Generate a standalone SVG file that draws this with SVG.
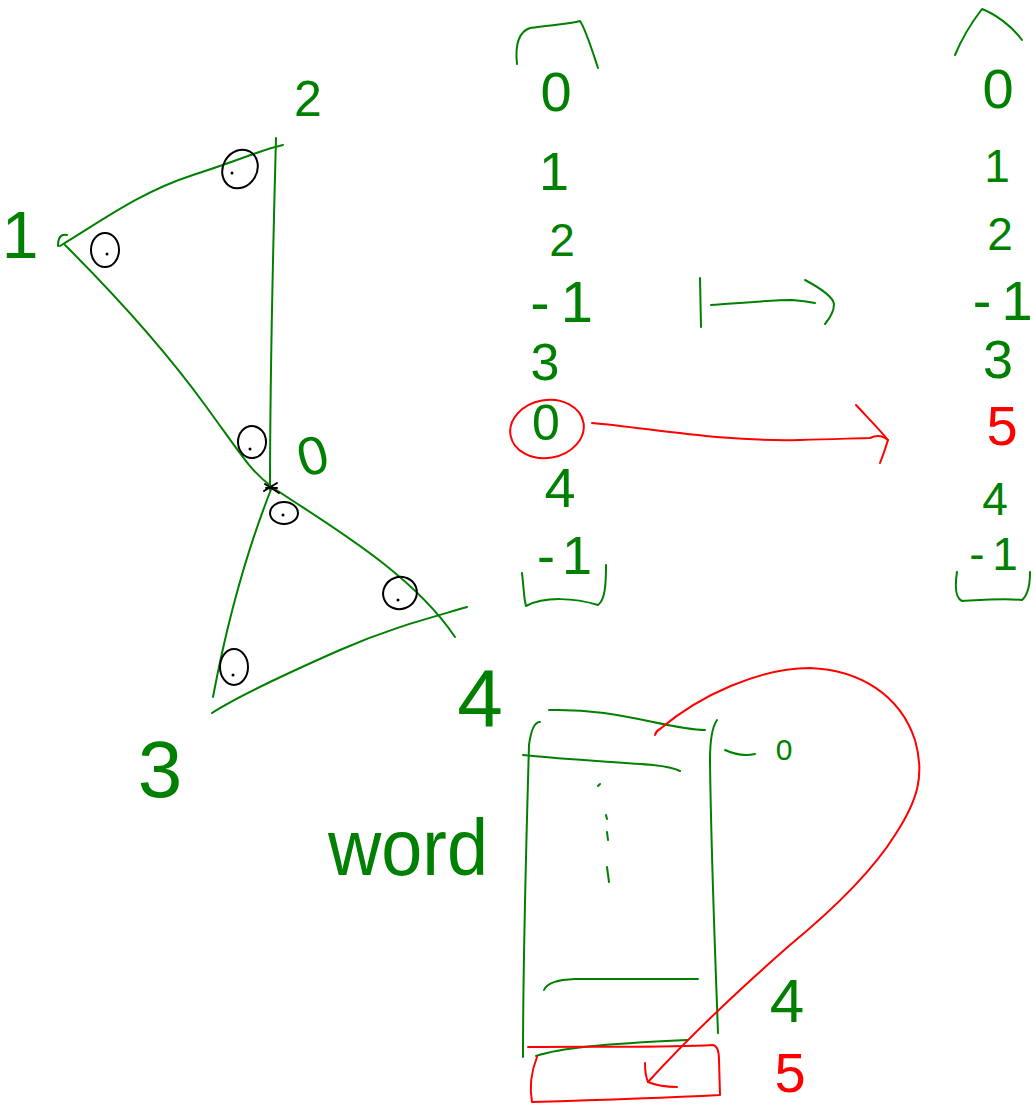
<svg xmlns="http://www.w3.org/2000/svg" width="1034" height="1110" viewBox="0 0 1034 1110">
<style>
.g{fill:none;stroke:#008000;stroke-width:2;stroke-linecap:round;stroke-linejoin:round}
.r{fill:none;stroke:#ff0000;stroke-width:2;stroke-linecap:round;stroke-linejoin:round}
.k{fill:none;stroke:#000;stroke-width:2;stroke-linecap:round;stroke-linejoin:round}
.dot{fill:#000}
.t{font-family:"Liberation Sans",Arial,sans-serif;fill:#008000;text-anchor:middle}
.tr{font-family:"Liberation Sans",Arial,sans-serif;fill:#ff0000;text-anchor:middle}
</style>
<rect width="1034" height="1110" fill="#fff"/>

<g id="triangle-graph">
  <path class="g" d="M67,235 Q58,233 58,246"/>
  <path class="g" d="M60,246 C100,222 140,192 193,175 S260,150 283,145"/>
  <path class="g" d="M276,138 C273,250 270,380 270,490"/>
  <path class="g" d="M65,245 C120,300 165,350 205,405 S250,470 272,487 C320,520 410,570 455,637"/>
  <path class="g" d="M272,487 Q235,580 213,697"/>
  <path class="g" d="M212,713 C240,695 290,672 340,650 S430,618 467,607"/>
  <g id="vertex-center-mark">
    <path class="k" d="M264,491 L277,483 M265,484 L279,493 M266,488 L277,488" stroke-width="3"/>
  </g>
  <g id="angle-marks">
    <ellipse class="k" cx="105" cy="250" rx="14" ry="17"/><circle class="dot" cx="107" cy="254" r="1.5"/>
    <ellipse class="k" cx="240" cy="169" rx="17" ry="20" transform="rotate(30 240 169)"/><circle class="dot" cx="232" cy="173" r="1.5"/>
    <ellipse class="k" cx="252" cy="442" rx="14" ry="16"/><circle class="dot" cx="250" cy="449" r="1.5"/>
    <ellipse class="k" cx="284" cy="513" rx="14" ry="11"/><circle class="dot" cx="283" cy="515" r="1.5"/>
    <ellipse class="k" cx="400" cy="593" rx="17" ry="16" transform="rotate(-20 400 593)"/><circle class="dot" cx="398" cy="600" r="1.5"/>
    <ellipse class="k" cx="234" cy="667" rx="14" ry="18"/><circle class="dot" cx="233" cy="675" r="1.5"/>
  </g>
  <text class="t" x="20" y="258" font-size="66">1</text>
  <text class="t" x="308" y="116" font-size="50">2</text>
  <text class="t" x="314" y="474" font-size="54" transform="rotate(-15 314 460)">0</text>
  <text class="t" x="160" y="797" font-size="80">3</text>
  <text class="t" x="480" y="727" font-size="82">4</text>
</g>

<g id="array-before">
  <path class="g" d="M517,64 C515,45 518,32 530,28 C550,25 570,24 580,21 C586,30 592,50 598,68"/>
  <text class="t" x="556" y="111" font-size="56">0</text>
  <text class="t" x="554" y="190" font-size="54">1</text>
  <text class="t" x="562" y="256" font-size="46">2</text>
  <text class="t" font-size="58" y="322"><tspan x="540">-</tspan><tspan x="577">1</tspan></text>
  <text class="t" x="545" y="380" font-size="52">3</text>
  <text class="t" x="546" y="440" font-size="50">0</text>
  <ellipse class="r" cx="547" cy="429" rx="37" ry="29" transform="rotate(-10 547 429)"/>
  <text class="t" x="560" y="507" font-size="56">4</text>
  <text class="t" font-size="54" y="574"><tspan x="546">-</tspan><tspan x="577">1</tspan></text>
  <path class="g" d="M522,573 C524,590 524,600 526,606 C545,596 575,598 598,605 C605,600 606,585 606,565"/>
</g>

<g id="array-after">
  <path class="g" d="M955,55 C962,38 972,22 982,9 C995,14 1012,26 1022,40"/>
  <text class="t" x="998" y="108" font-size="56">0</text>
  <text class="t" x="997" y="182" font-size="46">1</text>
  <text class="t" x="1000" y="250" font-size="46">2</text>
  <text class="t" font-size="56" y="320"><tspan x="982">-</tspan><tspan x="1017">1</tspan></text>
  <text class="t" x="998" y="378" font-size="54">3</text>
  <text class="tr" x="1002" y="445" font-size="56">5</text>
  <text class="t" x="995" y="515" font-size="46">4</text>
  <text class="t" font-size="46" y="570"><tspan x="977">-</tspan><tspan x="1005">1</tspan></text>
  <path class="g" d="M957,572 C955,585 955,598 962,601 C980,600 1005,598 1022,600 C1028,595 1030,585 1030,572"/>
</g>

<g id="word-array">
  <text class="t" x="328" y="875" font-size="80" textLength="160" lengthAdjust="spacingAndGlyphs" style="text-anchor:start">word</text>
  <path class="g" d="M540,722 Q532,722 529,745 C526,850 523,960 523,1057"/>
  <path class="g" d="M549,710 C590,709 620,715 653,722 S695,730 705,730"/>
  <path class="g" d="M523,755 C570,760 620,762 653,765 Q672,767 680,771"/>
  <path class="g" d="M717,720 Q710,730 710,760 C711,850 715,950 718,1033"/>
  <path class="g" d="M725,750 Q740,757 755,754"/>
  <text class="t" x="784" y="760" font-size="30">0</text>
  <path class="g" d="M598,786 L600,784 M606,815 L607,819 M607,832 L608,840 M607,867 L609,882"/>
  <path class="g" d="M544,990 Q548,980 575,979 L698,979"/>
  <path class="g" d="M536,1056 C560,1048 600,1044 687,1040"/>
  <path class="r" d="M528,1047 C600,1046 660,1048 713,1045 Q719,1046 719,1060 L720,1095 C660,1098 600,1100 532,1102 Q528,1080 537,1057"/>
  <text class="t" x="787" y="1022" font-size="62">4</text>
  <text class="tr" x="790" y="1092" font-size="56">5</text>
</g>

<g id="connectors">
  <path class="g" d="M700,278 L701,327"/>
  <path class="g" d="M711,305 C740,303 770,300 792,300 Q805,301 815,303"/>
  <path class="g" d="M805,280 C820,288 833,297 834,304 C834,312 830,318 825,324"/>
  <path class="r" d="M592,423 C650,428 720,442 800,440 C840,439 860,438 870,438 Q880,433 888,440"/>
  <path class="r" d="M856,405 C870,420 880,430 888,440 C885,450 882,458 880,463"/>
  <path class="r" d="M655,735 Q656,731 660,729 C700,695 760,668 810,668 C860,670 900,695 915,740 C925,775 918,800 895,835 C870,875 830,912 790,945 C750,980 700,1025 648,1082"/>
  <path class="r" d="M645,1063 Q645,1075 648,1082 Q660,1087 677,1087"/>
</g>
</svg>
